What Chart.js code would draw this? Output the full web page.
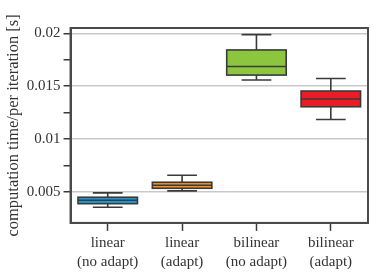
<!DOCTYPE html>
<html><head><meta charset="utf-8">
<script src="https://cdn.jsdelivr.net/npm/chart.js@4"></script>
<style>html,body{margin:0;padding:0;background:#fff}#wrap{width:374px;height:280px}</style>
</head><body><div id="wrap"><canvas id="c"></canvas></div>
<script>
const categories = [['linear','(no adapt)'],['linear','(adapt)'],['bilinear','(no adapt)'],['bilinear','(adapt)']];
const whiskerLow  = [0.00352, 0.00507, 0.01557, 0.01183];
const q1          = [0.00386, 0.00532, 0.01604, 0.01304];
const median      = [0.00419, 0.00561, 0.01686, 0.01377];
const q3          = [0.00447, 0.00589, 0.01842, 0.01453];
const whiskerHigh = [0.00488, 0.00656, 0.01987, 0.01572];
const boxColors = ['#1e9bd7', '#f39325', '#8cc63f', '#ec1c24'];
const yTicks = [0.005, 0.0075, 0.01, 0.0125, 0.015, 0.0175, 0.02];
const yLabels = {0.005:'0.005', 0.01:'0.01', 0.015:'0.015', 0.02:'0.02'};

const SERIF = "'Liberation Serif', 'DejaVu Serif', serif";
const DARK = '#3a3a3a';

function labelFor(v){
  for (const k in yLabels){ if (Math.abs(Number(k)-v) < 1e-9) return yLabels[k]; }
  return '';
}

const boxPlugin = {
  id: 'boxparts',
  afterDatasetsDraw(chart){
    const ctx = chart.ctx, ys = chart.scales.y;
    const meta = chart.getDatasetMeta(0);
    ctx.save();
    ctx.strokeStyle = DARK;
    ctx.lineWidth = 1.6;
    meta.data.forEach((bar, i) => {
      const x = bar.x, hw = bar.width / 2, cw = bar.width / 4;
      const yHi = ys.getPixelForValue(whiskerHigh[i]);
      const yQ3 = ys.getPixelForValue(q3[i]);
      const yQ1 = ys.getPixelForValue(q1[i]);
      const yLo = ys.getPixelForValue(whiskerLow[i]);
      const yMed = ys.getPixelForValue(median[i]);
      ctx.beginPath();
      ctx.moveTo(x, yQ3); ctx.lineTo(x, yHi);
      ctx.moveTo(x - cw, yHi); ctx.lineTo(x + cw, yHi);
      ctx.moveTo(x, yQ1); ctx.lineTo(x, yLo);
      ctx.moveTo(x - cw, yLo); ctx.lineTo(x + cw, yLo);
      ctx.moveTo(x - hw, yMed); ctx.lineTo(x + hw, yMed);
      ctx.stroke();
      ctx.strokeRect(x - hw, yQ3, bar.width, yQ1 - yQ3);
    });
    ctx.restore();
  },
  afterDraw(chart){
    const a = chart.chartArea, ctx = chart.ctx;
    ctx.save();
    ctx.strokeStyle = '#4a4a4a';
    ctx.lineWidth = 2;
    ctx.strokeRect(a.left, a.top, a.right - a.left, a.bottom - a.top);
    ctx.restore();
  }
};

new Chart(document.getElementById('c'), {
  type: 'bar',
  data: {
    labels: categories,
    datasets: [{
      data: q1.map((v, i) => [v, q3[i]]),
      backgroundColor: boxColors,
      borderWidth: 0,
      barPercentage: 0.8,
      categoryPercentage: 1.0
    }]
  },
  options: {
    responsive: true,
    maintainAspectRatio: false,
    animation: false,
    layout: { padding: { left: 3, right: 6, top: 28, bottom: 5 } },
    plugins: { legend: { display: false }, tooltip: { enabled: false } },
    scales: {
      x: {
        offset: true,
        grid: { display: true, offset: false, drawOnChartArea: false, drawTicks: true, tickLength: 8, tickColor: DARK, tickWidth: 1.5 },
        border: { display: true, color: '#4a4a4a', width: 2 },
        ticks: { font: { family: SERIF, size: 15, lineHeight: 1.27 }, color: '#333', padding: 3, maxRotation: 0, autoSkip: false }
      },
      y: {
        min: 0.00204,
        max: 0.0205,
        afterBuildTicks: s => { s.ticks = yTicks.map(v => ({ value: v })); },
        grid: {
          color: c => labelFor(c.tick.value) ? '#c8c8c8' : 'rgba(0,0,0,0)',
          lineWidth: 1.5,
          tickColor: DARK,
          tickWidth: 1.5,
          tickLength: 7,
          drawTicks: true
        },
        border: { display: true, color: '#4a4a4a', width: 2 },
        ticks: { font: { family: SERIF, size: 15 }, color: '#333', padding: 3, autoSkip: false, callback: v => labelFor(v) },
        title: { display: true, text: 'computation time/per iteration [s]', font: { family: SERIF, size: 16.5 }, color: '#333', padding: { top: 1, bottom: 0 } }
      }
    }
  },
  plugins: [boxPlugin]
});
</script>
</body></html>
